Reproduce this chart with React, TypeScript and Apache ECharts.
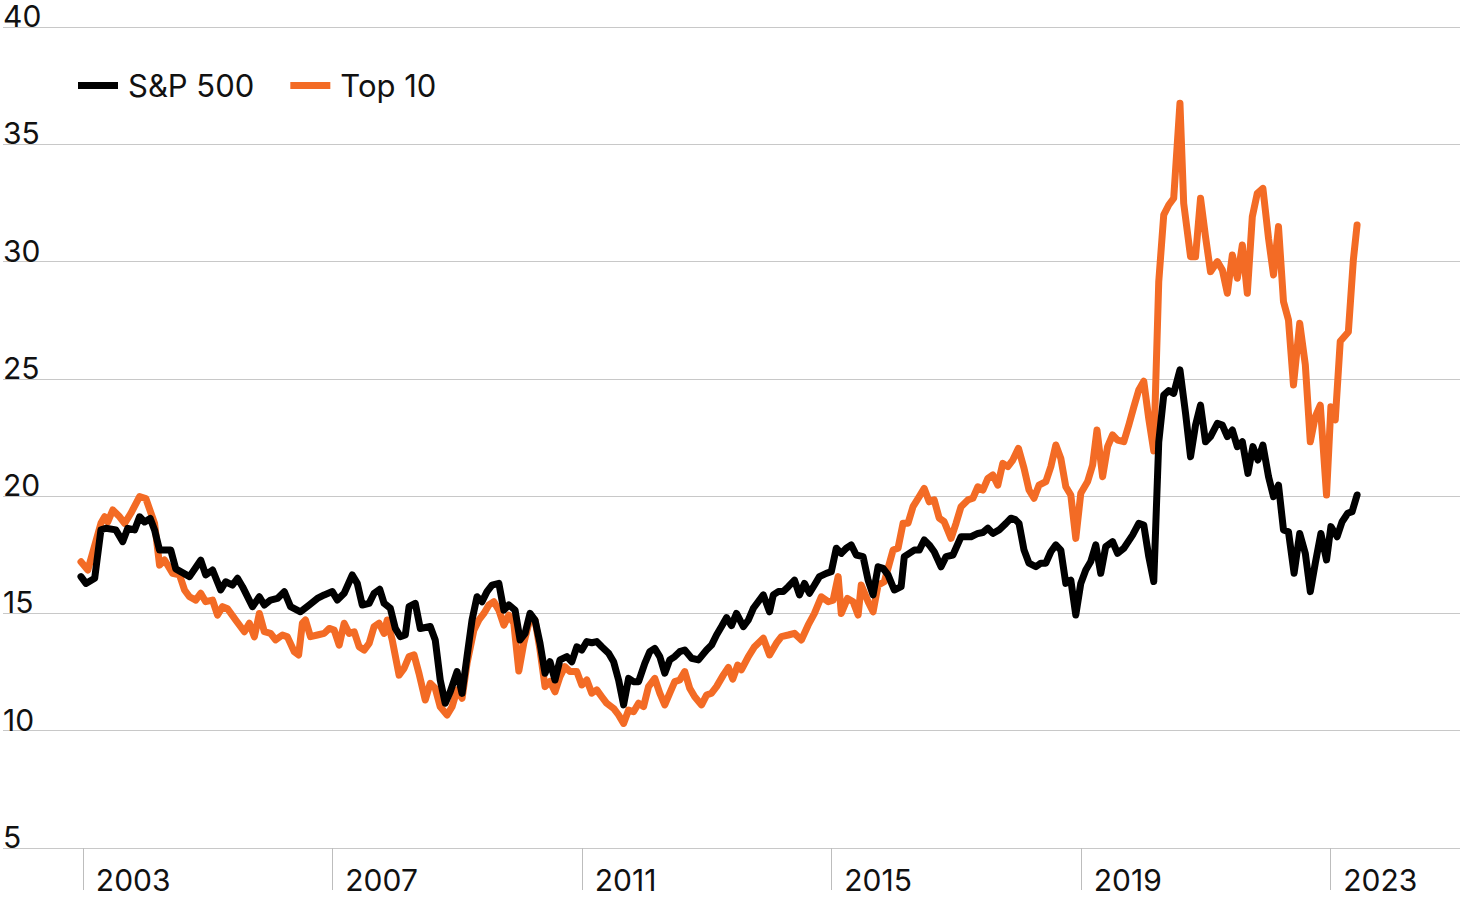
import React, { useEffect, useRef } from "react";
import * as echarts from "echarts";

const spYears = [
  2002.97, 2003.05, 2003.19, 2003.29, 2003.37, 2003.53, 2003.64, 2003.72, 2003.83, 2003.91, 2003.99,
  2004.08, 2004.15, 2004.23, 2004.41, 2004.49, 2004.71, 2004.89, 2004.97, 2005.08, 2005.21, 2005.29,
  2005.4, 2005.48, 2005.56, 2005.72, 2005.83, 2005.91, 2006.01, 2006.12, 2006.23, 2006.33, 2006.49,
  2006.63, 2006.76, 2006.87, 2007.0, 2007.08, 2007.19, 2007.32, 2007.4, 2007.48, 2007.59, 2007.67,
  2007.76, 2007.83, 2007.93, 2008.01, 2008.09, 2008.17, 2008.23, 2008.33, 2008.41, 2008.57, 2008.65,
  2008.73, 2008.81, 2008.89, 2009.0, 2009.08, 2009.16, 2009.24, 2009.32, 2009.4, 2009.48, 2009.56,
  2009.67, 2009.75, 2009.83, 2009.93, 2010.01, 2010.09, 2010.17, 2010.25, 2010.33, 2010.41, 2010.49,
  2010.57, 2010.65, 2010.76, 2010.84, 2010.92, 2011.0, 2011.08, 2011.16, 2011.24, 2011.32, 2011.43,
  2011.51, 2011.59, 2011.67, 2011.75, 2011.83, 2011.91, 2012.01, 2012.09, 2012.17, 2012.25, 2012.33,
  2012.41, 2012.49, 2012.57, 2012.65, 2012.76, 2012.87, 2013.0, 2013.08, 2013.16, 2013.24, 2013.32,
  2013.4, 2013.48, 2013.59, 2013.67, 2013.75, 2013.91, 2014.01, 2014.07, 2014.15, 2014.23, 2014.31,
  2014.41, 2014.49, 2014.57, 2014.65, 2014.73, 2014.81, 2014.92, 2015.0, 2015.08, 2015.16, 2015.24,
  2015.32, 2015.4, 2015.51, 2015.59, 2015.67, 2015.75, 2015.83, 2015.91, 2016.01, 2016.12, 2016.17,
  2016.25, 2016.33, 2016.41, 2016.49, 2016.57, 2016.65, 2016.76, 2016.84, 2016.95, 2017.08, 2017.24,
  2017.35, 2017.43, 2017.51, 2017.59, 2017.69, 2017.8, 2017.88, 2017.95, 2018.01, 2018.09, 2018.17,
  2018.28, 2018.36, 2018.44, 2018.52, 2018.6, 2018.68, 2018.76, 2018.84, 2018.92, 2019.0, 2019.08,
  2019.16, 2019.24, 2019.32, 2019.4, 2019.51, 2019.59, 2019.69, 2019.83, 2019.93, 2020.01, 2020.09,
  2020.17, 2020.25, 2020.33, 2020.41, 2020.49, 2020.59, 2020.68, 2020.76, 2020.84, 2020.92, 2021.0,
  2021.08, 2021.19, 2021.27, 2021.35, 2021.43, 2021.51, 2021.59, 2021.68, 2021.76, 2021.84, 2021.92,
  2022.01, 2022.09, 2022.17, 2022.25, 2022.33, 2022.42, 2022.51, 2022.6, 2022.68, 2022.76, 2022.85,
  2022.94, 2023.01, 2023.11, 2023.19, 2023.28, 2023.35, 2023.43,
];
const spValues = [
  16.57, 16.28, 16.5, 18.56, 18.63, 18.56, 18.06, 18.63, 18.56, 19.12, 18.9,
  19.05, 18.56, 17.7, 17.7, 16.9, 16.57, 17.27, 16.64, 16.85, 16.0, 16.35,
  16.21, 16.5, 16.14, 15.29, 15.71, 15.36, 15.57, 15.64, 15.93, 15.29, 15.07,
  15.36, 15.64, 15.79, 15.93, 15.57, 15.86, 16.64, 16.28, 15.36, 15.43, 15.86,
  16.03, 15.43, 15.22, 14.36, 14.01, 14.08, 15.29, 15.43, 14.36, 14.44, 13.87,
  12.16, 11.17, 11.66, 12.52, 11.59, 13.16, 14.72, 15.71, 15.5, 15.93, 16.21,
  16.28, 15.14, 15.36, 15.14, 13.87, 14.15, 15.0, 14.72, 13.73, 12.45, 12.94,
  12.16, 13.02, 13.16, 12.94, 13.58, 13.44, 13.8, 13.75, 13.8, 13.58, 13.3,
  12.94, 12.16, 11.1, 12.23, 12.09, 12.09, 12.87, 13.37, 13.51, 13.16, 12.45,
  13.02, 13.16, 13.37, 13.44, 13.09, 13.02, 13.44, 13.65, 14.08, 14.44, 14.82,
  14.48, 15.0, 14.44, 14.72, 15.22, 15.79, 15.07, 15.79, 15.93, 15.93, 16.14,
  16.42, 15.79, 16.28, 15.86, 16.21, 16.57, 16.71, 16.78, 17.78, 17.56, 17.78,
  17.92, 17.49, 17.42, 16.42, 15.79, 16.99, 16.92, 16.64, 16.0, 16.14, 17.42,
  17.56, 17.7, 17.7, 18.13, 17.92, 17.63, 16.99, 17.42, 17.49, 18.27, 18.27,
  18.41, 18.45, 18.63, 18.41, 18.56, 18.84, 19.06, 19.0, 18.84, 17.7, 17.14,
  16.99, 17.14, 17.14, 17.63, 17.92, 17.7, 16.28, 16.42, 14.93, 16.28, 16.85,
  17.21, 17.92, 16.71, 17.85, 18.06, 17.56, 17.78, 18.34, 18.84, 18.77, 17.42,
  16.36, 22.3, 24.31, 24.5, 24.38, 25.38, 23.53, 21.68, 23.03, 23.88, 22.32,
  22.54, 23.1, 23.03, 22.54, 22.82, 22.11, 22.32, 20.97, 22.11, 21.54, 22.18,
  20.83, 19.98, 20.47, 18.56, 18.48, 16.71, 18.41, 17.56, 15.93, 17.14, 18.41,
  17.28, 18.7, 18.27, 18.91, 19.27, 19.34, 20.05,
];

const topYears = [
  2002.97, 2003.08, 2003.29, 2003.35, 2003.4, 2003.48, 2003.59, 2003.67, 2003.77, 2003.91, 2004.01,
  2004.15, 2004.23, 2004.31, 2004.44, 2004.55, 2004.63, 2004.71, 2004.81, 2004.89, 2004.97, 2005.08,
  2005.16, 2005.24, 2005.32, 2005.45, 2005.59, 2005.67, 2005.75, 2005.83, 2005.91, 2006.01, 2006.09,
  2006.2, 2006.28, 2006.39, 2006.46, 2006.52, 2006.57, 2006.65, 2006.76, 2006.87, 2006.95, 2007.03,
  2007.11, 2007.19, 2007.27, 2007.35, 2007.43, 2007.51, 2007.59, 2007.67, 2007.75, 2007.83, 2007.88,
  2007.96, 2008.07, 2008.15, 2008.23, 2008.31, 2008.39, 2008.49, 2008.57, 2008.65, 2008.73, 2008.84,
  2008.92, 2009.0, 2009.08, 2009.16, 2009.27, 2009.35, 2009.43, 2009.51, 2009.59, 2009.67, 2009.75,
  2009.83, 2009.91, 2009.99, 2010.07, 2010.17, 2010.25, 2010.33, 2010.41, 2010.49, 2010.57, 2010.65,
  2010.73, 2010.81, 2010.92, 2011.0, 2011.08, 2011.16, 2011.24, 2011.32, 2011.4, 2011.51, 2011.59,
  2011.67, 2011.75, 2011.83, 2011.91, 2011.99, 2012.07, 2012.17, 2012.25, 2012.33, 2012.41, 2012.49,
  2012.57, 2012.65, 2012.73, 2012.81, 2012.92, 2013.0, 2013.08, 2013.16, 2013.27, 2013.35, 2013.42,
  2013.5, 2013.56, 2013.67, 2013.77, 2013.91, 2014.01, 2014.12, 2014.2, 2014.31, 2014.41, 2014.52,
  2014.63, 2014.73, 2014.84, 2014.95, 2015.03, 2015.11, 2015.16, 2015.26, 2015.35, 2015.43, 2015.48,
  2015.59, 2015.67, 2015.75, 2015.85, 2015.99, 2016.07, 2016.15, 2016.23, 2016.31, 2016.41, 2016.49,
  2016.57, 2016.65, 2016.73, 2016.81, 2016.92, 2017.0, 2017.08, 2017.19, 2017.27, 2017.35, 2017.43,
  2017.51, 2017.59, 2017.67, 2017.75, 2017.83, 2017.91, 2018.0, 2018.09, 2018.17, 2018.25, 2018.33,
  2018.44, 2018.52, 2018.6, 2018.68, 2018.76, 2018.84, 2018.92, 2019.0, 2019.11, 2019.19, 2019.26,
  2019.35, 2019.43, 2019.51, 2019.59, 2019.69, 2019.77, 2019.85, 2019.93, 2020.01, 2020.09, 2020.17,
  2020.25, 2020.33, 2020.41, 2020.49, 2020.59, 2020.65, 2020.76, 2020.84, 2020.92, 2021.0, 2021.08,
  2021.19, 2021.27, 2021.35, 2021.43, 2021.51, 2021.59, 2021.67, 2021.75, 2021.83, 2021.92, 2022.01,
  2022.09, 2022.17, 2022.25, 2022.33, 2022.41, 2022.51, 2022.6, 2022.68, 2022.76, 2022.84, 2022.94,
  2023.01, 2023.08, 2023.16, 2023.29, 2023.37, 2023.43,
];
const topValues = [
  17.2, 16.85, 18.84, 19.12, 18.9, 19.41, 19.12, 18.84, 19.27, 19.98, 19.9,
  18.84, 17.06, 17.28, 16.71, 16.64, 16.0, 15.71, 15.57, 15.86, 15.5, 15.57,
  14.93, 15.29, 15.2, 14.72, 14.22, 14.58, 14.0, 15.0, 14.22, 14.15, 13.87,
  14.08, 14.0, 13.37, 13.23, 14.58, 14.72, 14.01, 14.08, 14.15, 14.36, 14.29,
  13.65, 14.58, 14.15, 14.22, 13.58, 13.44, 13.72, 14.44, 14.58, 14.15, 14.72,
  13.87, 12.37, 12.66, 13.16, 13.23, 12.44, 11.31, 12.02, 11.81, 11.02, 10.67,
  11.02, 11.74, 11.38, 12.87, 14.29, 14.72, 15.0, 15.36, 15.5, 15.14, 14.5,
  14.93, 14.58, 12.55, 13.73, 14.79, 14.72, 13.44, 11.88, 12.1, 11.66, 12.3,
  12.73, 12.52, 12.52, 11.95, 12.16, 11.6, 11.74, 11.45, 11.17, 10.95, 10.67,
  10.31, 10.88, 10.81, 11.17, 11.03, 11.88, 12.23, 11.6, 11.1, 11.6, 12.09,
  12.16, 12.52, 11.81, 11.45, 11.1, 11.52, 11.6, 11.88, 12.38, 12.7, 12.2,
  12.8, 12.6, 13.16, 13.58, 13.94, 13.23, 13.73, 14.01, 14.08, 14.15, 13.87,
  14.51, 15.0, 15.71, 15.5, 15.57, 16.57, 15.0, 15.64, 15.5, 14.93, 16.21,
  15.5, 15.07, 16.21, 16.35, 17.7, 17.78, 18.84, 18.84, 19.55, 19.98, 20.33,
  19.76, 19.84, 19.06, 18.91, 18.2, 18.84, 19.55, 19.84, 19.91, 20.4, 20.26,
  20.76, 20.9, 20.47, 21.4, 21.26, 21.54, 22.04, 21.19, 20.26, 19.91, 20.47,
  20.62, 21.26, 22.18, 21.61, 20.4, 20.05, 18.2, 20.12, 20.62, 21.33, 22.82,
  20.83, 22.11, 22.61, 22.39, 22.32, 23.03, 23.8, 24.53, 24.9, 23.3, 21.93,
  29.14, 31.99, 32.41, 32.7, 36.75, 32.48, 30.21, 30.21, 32.7, 31.06, 29.57,
  30.0, 29.64, 28.65, 30.28, 29.29, 30.71, 28.65, 31.91, 32.91, 33.12, 30.99,
  29.43, 31.49, 28.29, 27.51, 24.74, 27.37, 25.6, 22.32, 23.39, 23.88, 20.05,
  23.81, 23.25, 26.6, 27.0, 30.07, 31.56,
];

const yearTicks = [2003, 2007, 2011, 2015, 2019, 2023];
const seriesNames = ["S&P 500", "Top 10"];

const FONT = "Inter, 'Noto Sans', sans-serif";
const BLACK = "#000000";
const ORANGE = "#F36B25";

export default function App() {
  const ref = useRef<HTMLDivElement>(null);

  useEffect(() => {
    document.body.style.margin = "0";
    if (!ref.current) return;
    const chart = echarts.init(ref.current, null, { renderer: "svg" });
    const spData = spYears.map((x, i) => [x, spValues[i]]);
    const topData = topYears.map((x, i) => [x, topValues[i]]);
    chart.setOption({
      animation: false,
      backgroundColor: "#ffffff",
      textStyle: { fontFamily: FONT },
      grid: { left: 0, right: 0, top: 27, bottom: 52, containLabel: false },
      legend: {
        left: 78,
        top: 70,
        padding: 0,
        itemWidth: 40,
        itemHeight: 7,
        itemGap: 36,
        data: [
          { name: seriesNames[0], icon: "rect", itemStyle: { color: BLACK } },
          { name: seriesNames[1], icon: "rect", itemStyle: { color: ORANGE } },
        ],
        textStyle: { fontSize: 31, color: "#111111", fontFamily: FONT, padding: [0, 0, 0, 5] },
      },
      xAxis: {
        type: "value",
        min: 2001.72,
        max: 2025.08,
        splitLine: { show: false },
        axisLine: { show: false },
        axisTick: {
          show: true,
          customValues: yearTicks,
          length: 42,
          lineStyle: { color: "#bdbdbd", width: 1 },
        },
        axisLabel: {
          customValues: yearTicks,
          formatter: (v: number) => String(Math.round(v)),
          align: "left",
          padding: [0, 0, 0, 13],
          margin: 17,
          fontSize: 30,
          color: "#111111",
          fontFamily: FONT,
        },
      },
      yAxis: {
        type: "value",
        min: 5,
        max: 40,
        interval: 5,
        axisLine: { show: false },
        axisTick: { show: false },
        splitLine: { show: true, lineStyle: { color: "#c8c8c8", width: 1 } },
        axisLabel: {
          inside: true,
          margin: 0,
          verticalAlign: "bottom",
          lineHeight: 22,
          fontSize: 30,
          color: "#111111",
          fontFamily: FONT,
        },
      },
      series: [
        {
          name: seriesNames[1],
          type: "line",
          data: topData,
          showSymbol: false,
          symbol: "none",
          lineStyle: { color: ORANGE, width: 7, join: "round", cap: "round" },
          itemStyle: { color: ORANGE },
          z: 2,
        },
        {
          name: seriesNames[0],
          type: "line",
          data: spData,
          showSymbol: false,
          symbol: "none",
          lineStyle: { color: BLACK, width: 7, join: "round", cap: "round" },
          itemStyle: { color: BLACK },
          z: 3,
        },
      ],
    });
    return () => chart.dispose();
  }, []);

  return <div ref={ref} style={{ width: 1460, height: 900 }} />;
}
